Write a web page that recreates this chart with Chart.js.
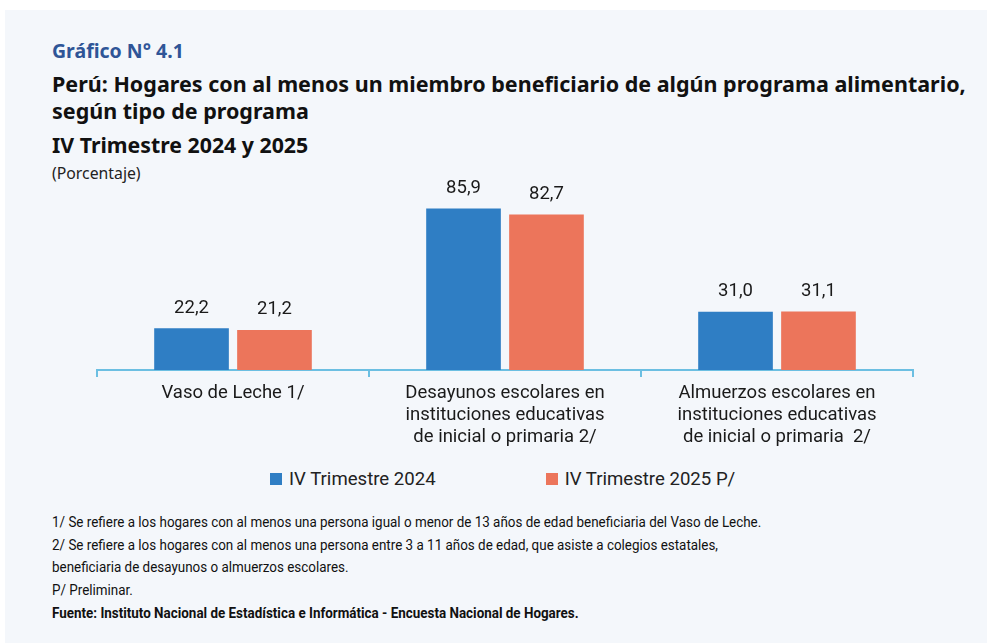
<!DOCTYPE html>
<html lang="es">
<head>
<meta charset="utf-8">
<script src="https://cdn.jsdelivr.net/npm/chart.js@4"></script>
<style>
  html, body { margin: 0; padding: 0; background: #ffffff; }
  body { width: 992px; height: 643px; position: relative; overflow: hidden; }
  #panel { position: absolute; left: 5px; top: 10px; width: 982px; height: 633px; background: #f4f7fb; }
  .txt { position: absolute; left: 52px; white-space: nowrap; font-family: "Noto Sans", sans-serif; color: #111; }
  #num { top: 37px; font-size: 19.5px; font-weight: bold; color: #2f5597; }
  #t1 { top: 70px; font-size: 21.5px; font-weight: bold; line-height: 27px; }
  #t2 { top: 130px; font-size: 21.3px; font-weight: bold; }
  #unit { top: 162px; font-size: 15.8px; color: #222; }
  #wrap { position: absolute; left: 0; top: 160px; width: 992px; height: 293px; }
  #legend { position: absolute; top: 468px; left: 270px; font-family: Roboto, sans-serif; font-size: 18.6px; color: #222; display: flex; }
  #legend span.item { display: flex; align-items: center; margin-right: 110px; }
  #legend span.box { width: 12px; height: 12px; margin-right: 7px; display: inline-block; }
  #notes { position: absolute; left: 52px; top: 512px; font-family: Roboto, sans-serif; font-size: 14.5px; line-height: 22.7px; color: #111; white-space: nowrap; transform: scaleX(0.925); transform-origin: left top; }
</style>
</head>
<body>
<div id="panel"></div>
<div class="txt" id="num">Gráfico N° 4.1</div>
<div class="txt" id="t1">Perú: Hogares con al menos un miembro beneficiario de algún programa alimentario,<br>según tipo de programa</div>
<div class="txt" id="t2">IV Trimestre 2024 y 2025</div>
<div class="txt" id="unit">(Porcentaje)</div>
<div id="wrap"><canvas id="chart"></canvas></div>
<div id="legend"></div>
<div id="notes">
  1/ Se refiere a los hogares con al menos una persona igual o menor de 13 años de edad beneficiaria del Vaso de Leche.<br>
  2/ Se refiere a los hogares con al menos una persona entre 3 a 11 años de edad, que asiste a colegios estatales,<br>
  beneficiaria de desayunos o almuerzos escolares.<br>
  P/ Preliminar.<br>
  <b>Fuente: Instituto Nacional de Estadística e Informática - Encuesta Nacional de Hogares.</b>
</div>
<script>
const categorias = [
  ["Vaso de Leche 1/"],
  ["Desayunos escolares en", "instituciones educativas", "de inicial o primaria 2/"],
  ["Almuerzos escolares en", "instituciones educativas", "de inicial o primaria  2/"]
];
const series = ["IV Trimestre 2024", "IV Trimestre 2025 P/"];
const valores2024 = [22.2, 85.9, 31.0];
const valores2025 = [21.2, 82.7, 31.1];
const colores = ["#2f7ec4", "#ec755b"];

function fmt(v) {
  return v.toFixed(1).replace(".", ",");
}

// etiquetas de valor sobre cada barra
const etiquetas = {
  id: "etiquetas",
  afterDatasetsDraw(chart) {
    const ctx = chart.ctx;
    ctx.save();
    ctx.font = "18.5px Roboto";
    ctx.fillStyle = "#1a1a1a";
    ctx.textAlign = "center";
    ctx.textBaseline = "bottom";
    chart.data.datasets.forEach((ds, i) => {
      chart.getDatasetMeta(i).data.forEach((bar, j) => {
        ctx.fillText(fmt(ds.data[j]), bar.x, bar.y - 11);
      });
    });
    ctx.restore();
  }
};

const ctx = document.getElementById("chart").getContext("2d");
const chart = new Chart(ctx, {
  type: "bar",
  data: {
    labels: categorias,
    datasets: [
      { label: series[0], data: valores2024, backgroundColor: colores[0] },
      { label: series[1], data: valores2025, backgroundColor: colores[1] }
    ]
  },
  options: {
    responsive: true,
    maintainAspectRatio: false,
    animation: false,
    layout: { padding: { left: 97, right: 79, top: 22, bottom: 0 } },
    categoryPercentage: 0.61,
    barPercentage: 0.9,
    plugins: {
      legend: { display: false },
      tooltip: { enabled: false }
    },
    scales: {
      x: {
        grid: {
          display: true,
          drawOnChartArea: false,
          offset: true,
          color: "#6cbfe2",
          lineWidth: 2,
          tickLength: 7
        },
        border: { color: "#6cbfe2", width: 2 },
        ticks: {
          color: "#1a1a1a",
          font: { family: "Roboto", size: 18.5, lineHeight: 1.19 },
          padding: 5,
          maxRotation: 0
        }
      },
      y: {
        display: false,
        min: 0,
        max: 100
      }
    }
  },
  plugins: [etiquetas]
});

// leyenda
const leyenda = document.getElementById("legend");
series.forEach((s, i) => {
  const item = document.createElement("span");
  item.className = "item";
  const box = document.createElement("span");
  box.className = "box";
  box.style.background = colores[i];
  item.appendChild(box);
  item.appendChild(document.createTextNode(s));
  leyenda.appendChild(item);
});
</script>
</body>
</html>
